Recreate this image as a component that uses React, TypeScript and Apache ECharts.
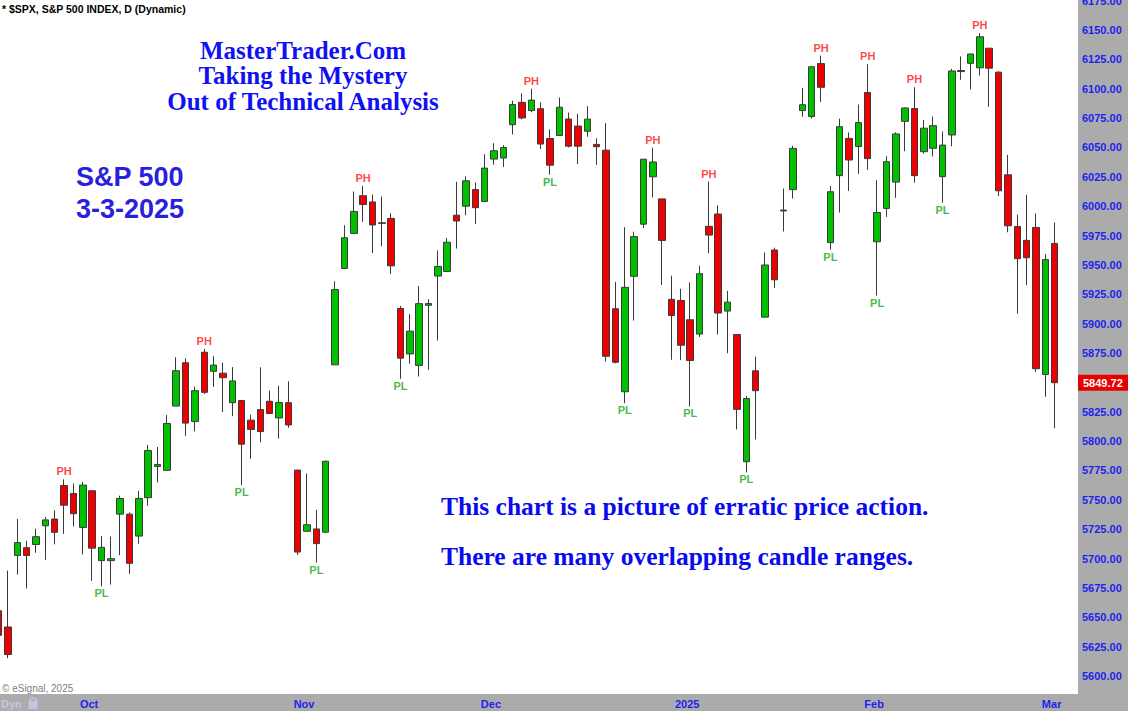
import React, { useEffect, useRef } from "react";
import * as echarts from "echarts";

// ---- data ----
const dates = [
  "2024-09-17","2024-09-18","2024-09-19","2024-09-20","2024-09-23","2024-09-24","2024-09-25","2024-09-26","2024-09-27","2024-09-30",
  "2024-10-01","2024-10-02","2024-10-03","2024-10-04","2024-10-07","2024-10-08","2024-10-09","2024-10-10","2024-10-11","2024-10-14",
  "2024-10-15","2024-10-16","2024-10-17","2024-10-18","2024-10-21","2024-10-22","2024-10-23","2024-10-24","2024-10-25","2024-10-28",
  "2024-10-29","2024-10-30","2024-10-31","2024-11-01","2024-11-04","2024-11-05","2024-11-06","2024-11-07","2024-11-08","2024-11-11",
  "2024-11-12","2024-11-13","2024-11-14","2024-11-15","2024-11-18","2024-11-19","2024-11-20","2024-11-21","2024-11-22","2024-11-25",
  "2024-11-26","2024-11-27","2024-11-29","2024-12-02","2024-12-03","2024-12-04","2024-12-05","2024-12-06","2024-12-09","2024-12-10",
  "2024-12-11","2024-12-12","2024-12-13","2024-12-16","2024-12-17","2024-12-18","2024-12-19","2024-12-20","2024-12-23","2024-12-24",
  "2024-12-26","2024-12-27","2024-12-30","2024-12-31","2025-01-02","2025-01-03","2025-01-06","2025-01-07","2025-01-08","2025-01-10",
  "2025-01-13","2025-01-14","2025-01-15","2025-01-16","2025-01-17","2025-01-21","2025-01-22","2025-01-23","2025-01-24","2025-01-27",
  "2025-01-28","2025-01-29","2025-01-30","2025-01-31","2025-02-03","2025-02-04","2025-02-05","2025-02-06","2025-02-07","2025-02-10",
  "2025-02-11","2025-02-12","2025-02-13","2025-02-14","2025-02-18","2025-02-19","2025-02-20","2025-02-21","2025-02-24","2025-02-25",
  "2025-02-26","2025-02-27","2025-02-28","2025-03-03",
];
const opens = [
  5655.5,5641.7,5702.6,5709.2,5711.9,5727.9,5733.6,5762.2,5755.4,5726.5,
  5757.7,5698.2,5698.2,5737.8,5737.8,5719.1,5751.8,5778.4,5775.1,5829.8,
  5866.7,5816.6,5875.6,5859.4,5857.8,5832.7,5834.5,5817.8,5826.8,5833.9,
  5819.7,5832.7,5775.3,5723.2,5725.2,5722.4,5864.9,5947.0,5976.8,6008.9,
  6003.6,5985.8,5989.6,5912.8,5874.2,5864.4,5915.6,5940.5,5944.4,5992.3,
  6000.0,6014.1,6004.0,6040.1,6041.0,6069.4,6088.4,6081.4,6083.0,6057.6,
  6060.2,6074.2,6068.2,6063.8,6052.6,6047.7,5912.7,5842.0,5940.3,5984.7,
  6025.0,6006.2,5920.7,5919.7,5903.3,5891.1,5982.8,5993.3,5910.7,5890.7,
  5782.4,5859.8,5905.5,5962.7,5995.9,6014.1,6081.4,6076.3,6121.4,5969.0,
  6026.0,6057.7,6050.8,6096.8,5969.7,5998.1,6020.5,6072.2,6083.1,6046.4,
  6049.3,6025.1,6060.6,6115.5,6121.6,6117.8,6134.5,6114.1,6026.7,5982.7,
  5970.9,5981.9,5856.7,5968.3,
];
const highs = [
  5670.8,5689.8,5733.6,5715.1,5725.4,5735.3,5741.0,5767.4,5763.8,5765.1,
  5757.7,5719.1,5718.8,5753.5,5739.3,5757.6,5796.8,5795.0,5822.1,5871.4,
  5870.4,5846.4,5878.5,5872.2,5866.9,5863.0,5834.9,5822.4,5862.8,5842.9,
  5847.2,5850.9,5775.3,5772.3,5741.4,5783.4,5936.1,5983.8,6012.5,6017.3,
  6009.9,6008.2,5993.9,5915.0,5908.1,5932.0,5920.7,5962.4,5972.9,6020.8,
  6025.4,6020.2,6044.2,6053.6,6052.0,6089.8,6096.0,6099.97,6088.5,6065.4,
  6092.6,6079.7,6078.6,6085.2,6057.7,6070.7,5935.5,5982.1,5978.3,6040.1,
  6049.8,6006.2,5940.8,5929.7,5935.1,5949.3,6021.0,6000.7,5927.9,5890.7,
  5838.4,5871.9,5960.6,5964.7,6015.0,6051.5,6100.8,6118.7,6128.2,6017.2,
  6074.5,6062.8,6086.6,6120.9,6022.1,6042.5,6062.9,6084.0,6101.3,6073.4,
  6076.3,6063.6,6116.9,6127.5,6129.6,6147.4,6134.5,6114.8,6043.7,5992.7,
  6009.8,5993.7,5959.4,5986.1,
];
const lows = [
  5614.1,5615.1,5686.4,5674.5,5704.9,5698.9,5712.1,5721.0,5727.3,5703.5,
  5681.0,5676.3,5677.8,5702.8,5686.9,5712.4,5745.0,5764.8,5775.1,5829.8,
  5804.5,5808.3,5840.2,5846.1,5824.8,5821.2,5762.4,5784.9,5799.0,5823.1,
  5802.2,5811.3,5703.0,5723.2,5696.5,5722.1,5864.9,5947.0,5976.8,5986.7,
  5960.1,5965.9,5942.3,5853.0,5865.9,5855.0,5860.6,5885.6,5944.4,5963.9,
  5992.3,5984.9,6004.0,6035.3,6033.4,6061.1,6073.9,6080.0,6048.6,6026.8,
  6060.2,6050.0,6035.8,6059.1,6035.2,5867.8,5866.1,5832.3,5902.6,5981.4,
  6007.4,5932.95,5869.2,5868.9,5829.5,5888.7,5960.0,5890.7,5874.8,5809.9,
  5773.3,5801.4,5905.5,5930.4,5978.4,6006.5,6076.1,6074.7,6088.7,5962.9,
  5994.6,6013.0,6027.5,6030.9,5923.9,5990.9,6007.1,6046.8,6020.0,6044.8,
  6042.3,6003.0,6051.0,6107.6,6099.5,6111.2,6084.6,6008.6,5977.8,5908.5,
  5932.7,5858.8,5837.7,5810.9,
];
const closes = [
  5634.6,5618.3,5713.6,5702.6,5718.6,5732.9,5722.3,5745.4,5738.2,5762.5,
  5708.8,5709.5,5699.9,5751.1,5695.9,5751.1,5792.0,5780.1,5815.0,5859.9,
  5815.3,5842.9,5841.5,5864.7,5853.98,5851.2,5797.4,5809.9,5808.1,5823.5,
  5832.9,5813.7,5705.5,5728.8,5712.7,5782.8,5929.0,5973.1,5995.5,6001.4,
  5984.0,5985.4,5949.2,5870.6,5893.6,5917.0,5917.1,5948.7,5969.3,5987.4,
  6021.6,5998.7,6032.4,6047.2,6049.9,6086.5,6075.1,6090.3,6052.9,6034.9,
  6084.2,6051.1,6051.1,6074.1,6050.6,5872.2,5867.1,5930.9,5974.1,6040.0,
  6037.6,5970.8,5906.9,5881.6,5868.6,5942.5,5975.4,5909.0,5918.3,5827.0,
  5836.2,5842.9,5949.9,5937.3,5996.7,6049.2,6086.4,6118.7,6101.2,6012.3,
  6067.7,6039.3,6071.2,6040.5,5994.6,6037.9,6061.5,6083.6,6026.0,6066.4,
  6068.5,6052.0,6115.1,6114.6,6129.6,6144.2,6117.5,6013.1,5983.3,5955.3,
  5956.1,5861.6,5954.5,5849.72,
];
// pivot highs / pivot lows (candle indexes)
const pivotHighIdx = [7, 22, 39, 57, 70, 76, 88, 93, 98, 105];
const pivotLowIdx = [11, 26, 34, 43, 59, 67, 74, 80, 89, 94, 101];
// price axis tick labels
const priceTicks = [
  5600, 5625, 5650, 5675, 5700, 5725, 5750, 5775, 5800, 5825, 5850, 5875,
  5900, 5925, 5950, 5975, 6000, 6025, 6050, 6075, 6100, 6125, 6150, 6175,
];
// month labels on the time axis
const monthStartDates = ["2024-10-01", "2024-11-01", "2024-12-02", "2025-01-02", "2025-02-03", "2025-03-03"];
const monthNames = ["Oct", "Nov", "Dec", "2025", "Feb", "Mar"];

const AXIS_BLUE = "#1f1fef";
const SANS = '"Liberation Sans", Arial, sans-serif';
const SERIF = '"Liberation Serif", "Times New Roman", serif';

export default function App() {
  const ref = useRef<HTMLDivElement>(null);

  useEffect(() => {
    if (!ref.current) return;
    const chart = echarts.init(ref.current, undefined, { renderer: "svg" });
    const categories = [...dates, "", ""];
    const candleData = dates.map((_, i) => [opens[i], closes[i], lows[i], highs[i]]);
    const lastClose = closes[closes.length - 1];

    const option: any = {
      animation: false,
      backgroundColor: "#ababab",
      grid: {
        left: -6,
        right: 50,
        top: 0,
        bottom: 17,
        show: true,
        backgroundColor: "#ffffff",
        borderWidth: 0,
        containLabel: false,
        outerBoundsMode: "none",
      },
      xAxis: {
        type: "category",
        data: categories,
        boundaryGap: true,
        axisLine: { show: false },
        axisTick: { show: false },
        splitLine: { show: false },
        axisLabel: {
          interval: (_i: number, v: string) => monthStartDates.indexOf(v) >= 0,
          formatter: (v: string) => {
            const k = monthStartDates.indexOf(v);
            return k >= 0 ? monthNames[k] : "";
          },
          color: AXIS_BLUE,
          fontWeight: "bold",
          fontSize: 11,
          fontFamily: SANS,
          margin: 4,
          padding: [0, 6, 0, 0],
        },
      },
      yAxis: {
        type: "value",
        position: "right",
        min: 5584.65,
        max: 6175.54,
        splitLine: { show: false },
        axisLine: { show: false },
        axisTick: { show: false },
        axisLabel: {
          customValues: priceTicks,
          formatter: (v: number) => v.toFixed(2),
          color: AXIS_BLUE,
          fontWeight: "bold",
          fontSize: 11,
          fontFamily: SANS,
          margin: 4,
          showMinLabel: true,
          showMaxLabel: true,
        },
      },
      series: [
        {
          type: "candlestick",
          data: candleData,
          barWidth: 7,
          itemStyle: {
            color: "#00c000",
            color0: "#ee0000",
            borderColor: "#3a3a3a",
            borderColor0: "#3a3a3a",
            borderColorDoji: "#3a3a3a",
            borderWidth: 1,
          },
          markLine: {
            silent: true,
            symbol: "none",
            lineStyle: { color: "rgba(0,0,0,0)", width: 0 },
            data: [{ yAxis: lastClose }],
            label: {
              show: true,
              position: "end",
              distance: 0,
              formatter: lastClose.toFixed(2),
              backgroundColor: "#e80000",
              color: "#ffffff",
              fontWeight: "bold",
              fontSize: 11,
              fontFamily: SANS,
              padding: [3, 6, 2, 5],
            },
          },
        },
        {
          type: "scatter",
          symbolSize: 1,
          itemStyle: { color: "rgba(0,0,0,0)" },
          data: pivotHighIdx.map((i) => [i, highs[i]]),
          label: {
            show: true,
            position: "top",
            distance: 2,
            formatter: "PH",
            color: "#ff1414",
            fontWeight: "bold",
            fontSize: 11,
            fontFamily: SANS,
          },
        },
        {
          type: "scatter",
          symbolSize: 1,
          itemStyle: { color: "rgba(0,0,0,0)" },
          data: pivotLowIdx.map((i) => [i, lows[i]]),
          label: {
            show: true,
            position: "bottom",
            distance: 1,
            formatter: "PL",
            color: "#14a814",
            fontWeight: "bold",
            fontSize: 11,
            fontFamily: SANS,
          },
        },
      ],
      graphic: [
        {
          type: "text",
          x: 2,
          y: 9,
          style: {
            text: "* $SPX, S&P 500 INDEX, D (Dynamic)",
            font: `bold 10.5px ${SANS}`,
            fill: "#000",
            verticalAlign: "middle",
            textVerticalAlign: "middle",
          },
        },
        ...["MasterTrader.Com", "Taking the Mystery", "Out of Technical Analysis"].map((t, k) => ({
          type: "text",
          x: 303,
          y: 50 + k * 25.5,
          style: {
            text: t,
            font: `bold 25px ${SERIF}`,
            fill: "#1010f2",
            align: "center",
            textAlign: "center",
            verticalAlign: "middle",
            textVerticalAlign: "middle",
          },
        })),
        ...["S&P 500", "3-3-2025"].map((t, k) => ({
          type: "text",
          x: 76,
          y: 177 + k * 32,
          style: {
            text: t,
            font: `bold 27px ${SANS}`,
            fill: "#2a1fdc",
            verticalAlign: "middle",
            textVerticalAlign: "middle",
          },
        })),
        ...["This chart is a picture of erratic price action.", "There are many overlapping candle ranges."].map(
          (t, k) => ({
            type: "text",
            x: 441,
            y: 506 + k * 50,
            style: {
              text: t,
              font: `bold 25.5px ${SERIF}`,
              fill: "#0a0af0",
              verticalAlign: "middle",
              textVerticalAlign: "middle",
            },
          })
        ),
        {
          type: "text",
          x: 2,
          y: 688,
          style: {
            text: "© eSignal, 2025",
            font: `10px ${SANS}`,
            fill: "#808080",
            verticalAlign: "middle",
            textVerticalAlign: "middle",
          },
        },
        {
          type: "text",
          x: 1,
          y: 704,
          style: {
            text: "Dyn",
            font: `bold 11px ${SANS}`,
            fill: "#c4c7dc",
            verticalAlign: "middle",
            textVerticalAlign: "middle",
          },
        },
        {
          type: "arc",
          shape: { cx: 33, cy: 701, r: 3, startAngle: Math.PI, endAngle: 2 * Math.PI },
          style: { stroke: "#c4c7dc", lineWidth: 1.5, fill: null },
        },
        {
          type: "rect",
          shape: { x: 28.5, y: 701, width: 9, height: 8 },
          style: { fill: "#c4c7dc" },
        },
      ],
    };

    chart.setOption(option);
    return () => chart.dispose();
  }, []);

  return (
    <div
      ref={ref}
      style={{ position: "fixed", left: 0, top: 0, width: 1128, height: 711 }}
    />
  );
}
